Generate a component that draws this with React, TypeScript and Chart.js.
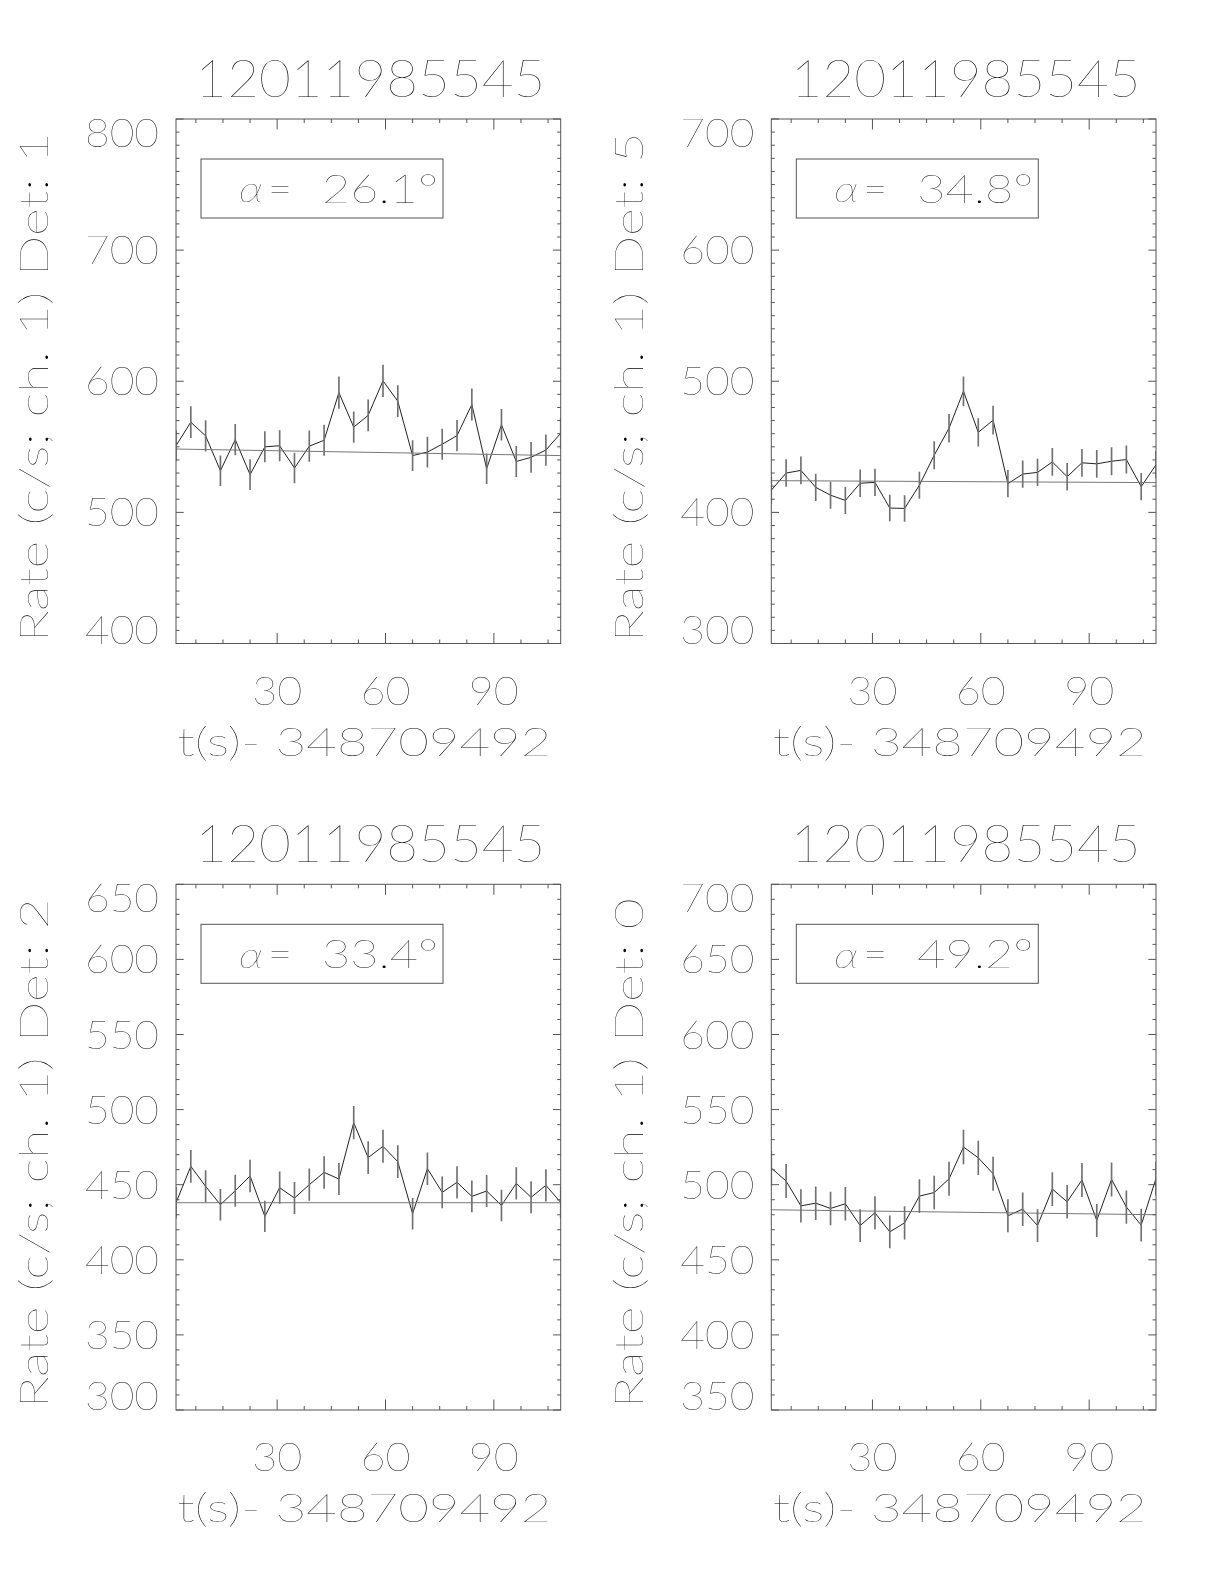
import React, { useEffect, useRef } from "react";
import { Chart, registerables } from "chart.js";

Chart.register(...registerables);

// ---------- data ----------
const times = [
  2.0, 6.1, 10.2, 14.3, 18.4, 22.5, 26.6, 30.7, 34.8, 38.9, 43.0, 47.1, 51.2, 55.2,
  59.3, 63.4, 67.5, 71.6, 75.7, 79.8, 83.9, 88.0, 92.1, 96.2, 100.3, 104.4, 108.5,
];
const xTickLabels = [30, 60, 90];
const xMinorStep = 7.5;
const yMinorStep = 10;

const plotTitle = "12011985545";
const xTitle = "t(s)- 348709492";

// Det 1
const rateDet1 = [
  550.8, 568.8, 558.3, 531.8, 555.5, 528.8, 550.0, 550.8, 533.8, 550.5, 555.0, 591.3, 565.0, 574.0,
  600.3, 584.8, 543.3, 546.0, 552.0, 558.5, 582.3, 533.3, 566.8, 538.8, 542.0, 547.5, 560.3,
];
const errDet1 = [
  11.6, 11.8, 11.7, 11.4, 11.6, 11.4, 11.6, 11.6, 11.4, 11.6, 11.6, 12.0, 11.7, 11.8,
  12.1, 11.9, 11.5, 11.5, 11.6, 11.7, 11.9, 11.4, 11.8, 11.5, 11.5, 11.6, 11.7,
];
const fitDet1 = [548.3, 543.3];
const yTicksDet1 = [400, 500, 600, 700, 800];
const alphaDet1 = "26.1";

// Det 5
const rateDet5 = [
  416.9, 430.0, 432.0, 419.1, 413.1, 409.1, 422.2, 422.9, 403.3, 403.0, 420.7, 443.6, 464.2, 492.4,
  461.0, 470.3, 421.9, 429.2, 430.5, 438.5, 427.2, 437.8, 437.0, 439.0, 440.3, 419.6, 436.3,
];
const errDet5 = [
  10.1, 10.2, 10.3, 10.1, 10.0, 10.0, 10.2, 10.2, 9.9, 9.9, 10.1, 10.4, 10.6, 11.0,
  10.6, 10.7, 10.2, 10.2, 10.2, 10.3, 10.2, 10.3, 10.3, 10.4, 10.4, 10.1, 10.3,
];
const fitDet5 = [424.2, 422.7];
const yTicksDet5 = [300, 400, 500, 600, 700];
const alphaDet5 = "34.8";

// Det 2
const rateDet2 = [
  438.0, 462.2, 448.9, 436.7, 446.0, 455.8, 428.9, 448.0, 441.1, 450.0, 458.2, 453.8, 491.3, 468.0,
  475.6, 465.3, 430.7, 460.7, 444.9, 451.6, 442.2, 445.8, 436.2, 450.9, 441.6, 449.6, 438.2,
];
const errDet2 = [
  10.3, 10.6, 10.5, 10.3, 10.4, 10.6, 10.2, 10.5, 10.4, 10.5, 10.6, 10.5, 10.9, 10.7,
  10.8, 10.7, 10.3, 10.6, 10.4, 10.5, 10.4, 10.4, 10.3, 10.5, 10.4, 10.5, 10.3,
];
const fitDet2 = [438.0, 438.0];
const yTicksDet2 = [300, 350, 400, 450, 500, 550, 600, 650];
const alphaDet2 = "33.4";

// Det 0
const rateDet0 = [
  511.1, 502.4, 485.9, 487.7, 484.2, 487.3, 472.8, 481.3, 468.6, 474.6, 492.4, 494.8, 503.9, 525.1,
  517.9, 507.3, 479.3, 483.7, 472.8, 497.1, 488.6, 503.1, 476.2, 503.5, 485.1, 473.1, 504.2,
];
const errDet0 = [
  11.2, 11.1, 10.9, 10.9, 10.9, 10.9, 10.7, 10.8, 10.7, 10.8, 11.0, 11.0, 11.1, 11.3,
  11.2, 11.1, 10.8, 10.9, 10.7, 11.0, 10.9, 11.1, 10.8, 11.1, 10.9, 10.7, 11.1,
];
const fitDet0 = [483.3, 480.0];
const yTicksDet0 = [350, 400, 450, 500, 550, 600, 650, 700];
const alphaDet0 = "49.2";

// ---------- styling ----------
const FONT = '"Lato", "Roboto", "DejaVu Sans", sans-serif';
const WEIGHT = 200;
const TEXT_COLOR = "#000";
const CAP = 0.72;

type Opts = {
  align?: CanvasTextAlign;
  width?: number;
  hscale?: number;
  rotate?: number;
  font?: string;
};

function fontOf(size: number, o: Opts) {
  return o.font ? o.font.replace("{s}", String(size)) : `${WEIGHT} ${size}px ${FONT}`;
}

function drawText(ctx: CanvasRenderingContext2D, s: string, x: number, cy: number, size: number, o: Opts) {
  ctx.save();
  ctx.font = fontOf(size, o);
  const w = ctx.measureText(s).width;
  const sx = o.width ? o.width / w : o.hscale ?? 1;
  ctx.translate(x, cy);
  if (o.rotate) ctx.rotate(o.rotate);
  ctx.scale(sx, 1);
  ctx.textAlign = o.align ?? "center";
  ctx.textBaseline = "alphabetic";
  ctx.fillStyle = TEXT_COLOR;
  ctx.fillText(s, 0, (size * CAP) / 2);
  ctx.restore();
}

type PanelDef = {
  det: string;
  rates: number[];
  errs: number[];
  fit: number[];
  yTicks: number[];
  alpha: string;
  left: number;
  top: number;
  pad: { left: number; right: number; top: number; bottom: number };
};

const panels: PanelDef[] = [
  { det: "1", rates: rateDet1, errs: errDet1, fit: fitDet1, yTicks: yTicksDet1, alpha: alphaDet1, left: 0, top: 0,
    pad: { left: 176, right: 51.3, top: 119, bottom: 148.5 } },
  { det: "5", rates: rateDet5, errs: errDet5, fit: fitDet5, yTicks: yTicksDet5, alpha: alphaDet5, left: 612, top: 0,
    pad: { left: 159.3, right: 68, top: 119, bottom: 148.5 } },
  { det: "2", rates: rateDet2, errs: errDet2, fit: fitDet2, yTicks: yTicksDet2, alpha: alphaDet2, left: 0, top: 792,
    pad: { left: 176, right: 51.3, top: 92.3, bottom: 174 } },
  { det: "0", rates: rateDet0, errs: errDet0, fit: fitDet0, yTicks: yTicksDet0, alpha: alphaDet0, left: 612, top: 792,
    pad: { left: 159.3, right: 68, top: 92.3, bottom: 174 } },
];

function makeDecor(p: PanelDef) {
  return {
    id: "idlDecor" + p.det,
    afterDraw(chart: any) {
      const ctx: CanvasRenderingContext2D = chart.ctx;
      const a = chart.chartArea;
      const xs = chart.scales.x;
      const ys = chart.scales.y;
      const L = a.left, R = a.right, T = a.top, B = a.bottom;

      ctx.save();
      ctx.strokeStyle = "#555";
      ctx.lineWidth = 1;
      ctx.strokeRect(L, T, R - L, B - T);

      // x ticks
      ctx.beginPath();
      for (let v = Math.ceil(xs.min / xMinorStep) * xMinorStep; v <= xs.max; v += xMinorStep) {
        const px = xs.getPixelForValue(v);
        const major = xTickLabels.includes(v);
        const len = major ? 10.5 : 4;
        ctx.moveTo(px, B); ctx.lineTo(px, B - len);
        ctx.moveTo(px, T); ctx.lineTo(px, T + len);
      }
      // y ticks
      for (let v = Math.ceil(ys.min / yMinorStep) * yMinorStep; v <= ys.max + 1e-6; v += yMinorStep) {
        const py = ys.getPixelForValue(v);
        const major = p.yTicks.includes(v);
        const len = major ? 7.7 : 3.5;
        ctx.moveTo(L, py); ctx.lineTo(L + len, py);
        ctx.moveTo(R, py); ctx.lineTo(R - len, py);
      }
      ctx.stroke();
      ctx.restore();

      const tickSize = 39;
      const half = (tickSize * CAP) / 2;
      // y tick labels
      for (const v of p.yTicks) {
        let cy = ys.getPixelForValue(v);
        cy = Math.max(T + half, Math.min(B - half, cy));
        drawText(ctx, String(v), L - 17, cy, tickSize, { align: "right", width: 74 });
      }
      // x tick labels
      for (const v of xTickLabels) {
        drawText(ctx, String(v), xs.getPixelForValue(v), B + 47, tickSize, { align: "center", width: 50 });
      }
      const cx = (L + R) / 2;
      // title
      drawText(ctx, plotTitle, cx + 2, T - 41, 52, { align: "center", width: 350 });
      // x title
      drawText(ctx, xTitle, cx - 4, B + 98, 39, { align: "center", width: 374 });
      // y title
      drawText(ctx, `Rate (c/s; ch. 1) Det: ${p.det}`, L - 142, (T + B) / 2 + 6, 39, {
        align: "center", width: 510, rotate: -Math.PI / 2,
      });

      // alpha box
      const bx = L + 25, by = T + 40, bw = 242, bh = 59;
      ctx.save();
      ctx.strokeStyle = "#555";
      ctx.lineWidth = 1;
      ctx.strokeRect(bx, by, bw, bh);
      ctx.restore();
      const cyb = by + bh / 2;
      const x0 = bx + 38;
      drawText(ctx, "\u03b1", x0, cyb + 1, 36, {
        align: "left", width: 24, font: `italic ${WEIGHT} {s}px ${FONT}`,
      });
      drawText(ctx, "=", x0 + 29, cyb, 39, { align: "left", width: 24 });
      drawText(ctx, `${p.alpha}\u00b0`, x0 + 83, cyb, 39, { align: "left", width: 116 });
    },
  };
}

function Panel({ p }: { p: PanelDef }) {
  const ref = useRef<HTMLCanvasElement | null>(null);
  useEffect(() => {
    if (!ref.current) return;
    const last = times.length - 1;
    const chart = new Chart(ref.current, {
      type: "line",
      data: {
        datasets: [
          {
            type: "line",
            data: [
              { x: times[0], y: p.fit[0] },
              { x: times[last], y: p.fit[1] },
            ],
            borderColor: "#777",
            borderWidth: 1,
            pointRadius: 0,
            fill: false,
          } as any,
          {
            type: "bar",
            data: times.map((t, i) => ({ x: t, y: [p.rates[i] - p.errs[i], p.rates[i] + p.errs[i]] })),
            backgroundColor: "#707070",
            borderWidth: 0,
            barThickness: 1,
            grouped: false,
          } as any,
          {
            type: "line",
            data: times.map((t, i) => ({ x: t, y: p.rates[i] })),
            borderColor: "#222",
            borderWidth: 1,
            pointRadius: 0,
            tension: 0,
            fill: false,
          } as any,
        ],
      },
      options: {
        animation: false,
        responsive: false,
        maintainAspectRatio: false,
        devicePixelRatio: 1,
        layout: { padding: p.pad },
        scales: {
          x: { type: "linear", display: false, min: times[0], max: times[last], offset: false },
          y: { type: "linear", display: false, min: p.yTicks[0], max: p.yTicks[p.yTicks.length - 1] },
        },
        plugins: { legend: { display: false }, tooltip: { enabled: false }, title: { display: false } },
        events: [],
      } as any,
      plugins: [makeDecor(p)],
    });
    return () => chart.destroy();
  }, [p]);
  return (
    <canvas
      ref={ref}
      width={612}
      height={792}
      style={{ position: "absolute", left: p.left, top: p.top, width: 612, height: 792 }}
    />
  );
}

export default function App() {
  useEffect(() => {
    document.body.style.margin = "0";
  }, []);
  return (
    <div style={{ position: "relative", width: 1224, height: 1584, background: "#fff" }}>
      {panels.map((p) => (
        <Panel key={p.det} p={p} />
      ))}
    </div>
  );
}
